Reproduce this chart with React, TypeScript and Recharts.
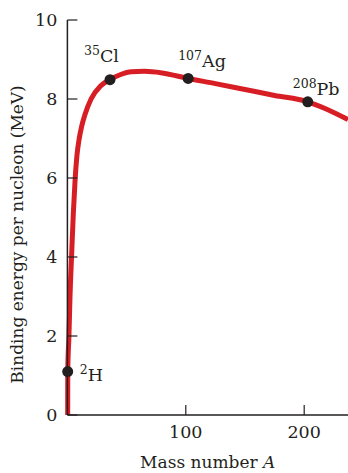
import React from 'react';
import { ComposedChart, Line, Scatter, XAxis, YAxis, Label } from 'recharts';

// Binding energy curve (mass number A, MeV per nucleon)
const curveA = [0.25, 0.3, 1.3, 2.2, 3.5, 5, 6.5, 8, 10, 12, 15, 20, 28, 36, 45, 54, 65, 80, 102, 125, 150, 175, 203, 220, 237];
const curveBE = [0, 1.1, 2.0, 3.0, 4.0, 5.1, 5.95, 6.55, 7.0, 7.3, 7.62, 8.0, 8.33, 8.49, 8.62, 8.69, 8.7, 8.66, 8.52, 8.39, 8.24, 8.09, 7.93, 7.73, 7.48];

// Labelled nuclides
const nuclideSup = ['2', '35', '107', '208'];
const nuclideSym = ['H', 'Cl', 'Ag', 'Pb'];
const nuclideA = [0.25, 36, 102, 203];
const nuclideBE = [1.1, 8.49, 8.52, 7.93];

const xTicks = [100, 200];
const yTicks = [0, 2, 4, 6, 8, 10];

const curveData = curveA.map((a, i) => ({ a, be: curveBE[i] }));
const pointData = nuclideA.map((a, i) => ({ a, be: nuclideBE[i], sup: nuclideSup[i], sym: nuclideSym[i] }));

// label offsets (styling)
const labelOffset: Record<string, [number, number]> = {
  H: [12, 9],
  Cl: [-26, -18],
  Ag: [-10, -11],
  Pb: [-15, -7],
};

const FONT = '"DejaVu Serif", serif';
const INK = '#231f20';

const NuclideDot = (props: any) => {
  const { cx, cy, payload } = props;
  const [dx, dy] = labelOffset[payload.sym];
  return (
    <g>
      <circle cx={cx} cy={cy} r={5.5} fill={INK} />
      <text x={cx + dx} y={cy + dy} fontFamily={FONT} fill={INK}>
        <tspan fontSize={12.5} dy={-7}>{payload.sup}</tspan>
        <tspan fontSize={17.5} dy={7}>{payload.sym}</tspan>
      </text>
    </g>
  );
};

const YLabel = (props: any) => {
  const vb = props.viewBox;
  const x = vb.x + 23;
  const y = vb.y + vb.height / 2 + 17;
  return (
    <text x={x} y={y} transform={`rotate(-90 ${x} ${y})`} textAnchor="middle" fontFamily={FONT} fontSize={17} fill={INK}>
      Binding energy per nucleon (MeV)
    </text>
  );
};

const XLabel = (props: any) => {
  const vb = props.viewBox;
  const x = vb.x + vb.width / 2;
  const y = vb.y + 53;
  return (
    <text x={x} y={y} textAnchor="middle" fontFamily={FONT} fontSize={17} fill={INK}>
      Mass number <tspan fontStyle="italic">A</tspan>
    </text>
  );
};

export default function App() {
  return (
    <div style={{ position: 'absolute', left: 0, top: 0, background: '#fff' }}>
      <ComposedChart width={348} height={473} margin={{ top: 20, right: 0, left: 0, bottom: 0 }}>
        <XAxis
          dataKey="a"
          type="number"
          domain={[0, 237]}
          ticks={xTicks}
          height={58}
          tickSize={-10}
          tickMargin={21}
          axisLine={{ stroke: INK, strokeWidth: 1.5 }}
          tickLine={{ stroke: INK, strokeWidth: 1.2 }}
          tick={{ fontFamily: FONT, fontSize: 17.5, fill: INK }}
        >
          <Label content={<XLabel />} />
        </XAxis>
        <YAxis
          dataKey="be"
          type="number"
          domain={[0, 10]}
          ticks={yTicks}
          width={67.4}
          tickSize={-10}
          tickMargin={20}
          axisLine={{ stroke: INK, strokeWidth: 1.5 }}
          tickLine={{ stroke: INK, strokeWidth: 1.2 }}
          tick={{ fontFamily: FONT, fontSize: 17.5, fill: INK }}
        >
          <Label content={<YLabel />} />
        </YAxis>
        <Line
          data={curveData}
          dataKey="be"
          type="monotone"
          stroke="#d81e25"
          strokeWidth={5}
          dot={false}
          activeDot={false}
          isAnimationActive={false}
        />
        <Scatter data={pointData} dataKey="be" shape={<NuclideDot />} isAnimationActive={false} />
      </ComposedChart>
    </div>
  );
}
